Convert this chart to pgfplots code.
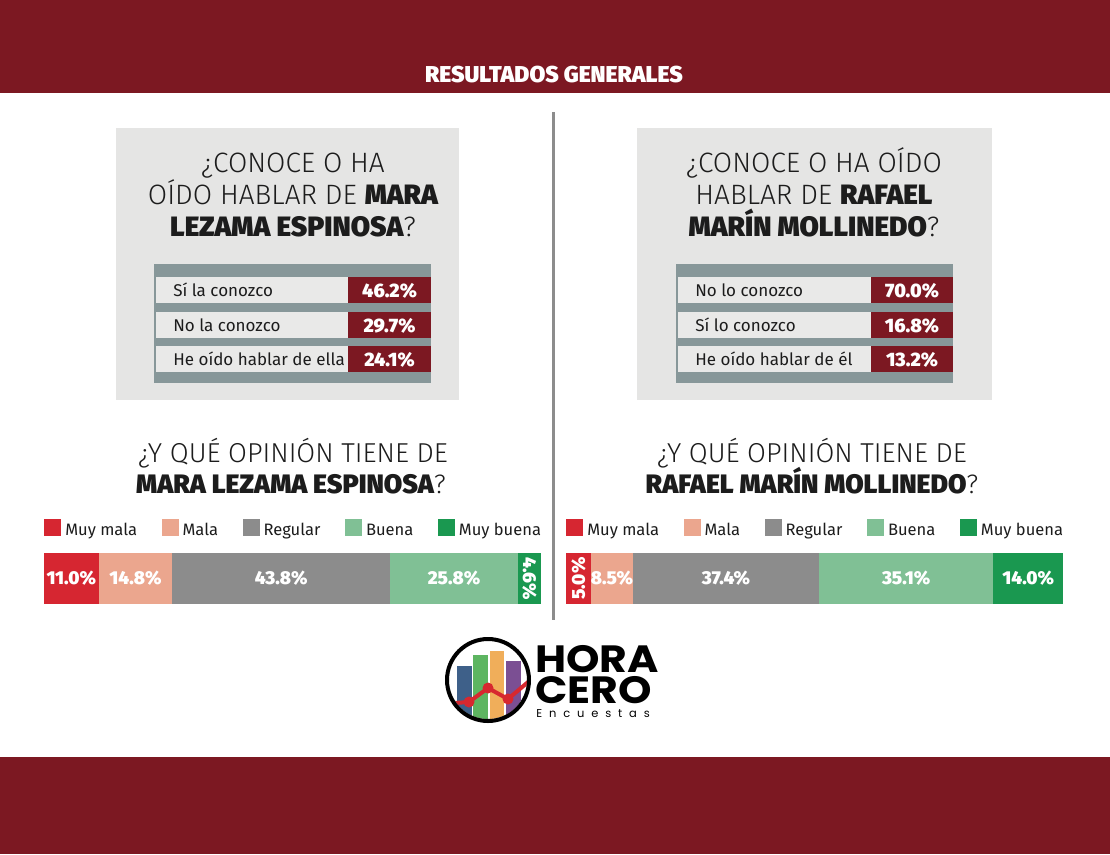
\documentclass[border=0pt]{standalone}
\usepackage{pgfplots}
\pgfplotsset{compat=1.18}
\usepackage{fontspec}
\setmainfont{Fira Sans}
\newfontfamily\flight{Fira Sans Light}
\newfontfamily\fheavy{Fira Sans Black}
\newfontfamily\logofont{Poppins}
\newfontfamily\logols{Poppins}[LetterSpace=60]
\newcommand{\fs}[1]{\fontsize{#1pt}{#1pt}\selectfont}
\definecolor{hcred}{RGB}{124,24,34}
\definecolor{boxgray}{RGB}{229,229,228}
\definecolor{cellgray}{RGB}{233,233,232}
\definecolor{frameg}{RGB}{135,151,153}
\definecolor{divider}{RGB}{140,140,140}
\definecolor{titlec}{RGB}{28,28,28}
\definecolor{cMM}{RGB}{214,38,49}
\definecolor{cM}{RGB}{235,166,142}
\definecolor{cR}{RGB}{140,140,140}
\definecolor{cB}{RGB}{128,192,149}
\definecolor{cMB}{RGB}{26,152,80}
\definecolor{lblue}{RGB}{62,96,137}
\definecolor{lgreen}{RGB}{93,181,97}
\definecolor{lorange}{RGB}{240,174,90}
\definecolor{lpurple}{RGB}{123,79,147}
\definecolor{lred}{RGB}{215,40,47}
\pgfplotsset{
  opbar/.style={at={(#1)}, anchor=south west, scale only axis,
    width=372.75pt, height=38.25pt, xmin=0, xmax=100, ymin=0.5, ymax=1.5,
    hide axis, clip=false},
  oplab/.style={only marks, mark=none, nodes near coords,
    point meta=explicit symbolic,
    visualization depends on={value \thisrow{rot}\as\rot},
    every node near coord/.append style={rotate=\rot, anchor=center,
      text=white, font=\fheavy\fs{14}, inner sep=0pt}},
  oplegend/.style={legend columns=5,
    legend style={at={(0,1)}, anchor=south west, yshift=12.75pt,
      draw=none, fill=none, inner sep=0pt, font=\fs{12.4},
      cells={anchor=west},
      nodes={inner sep=0pt, text depth=0pt, text=titlec},
      /tikz/every even column/.append style={column sep=18.4pt},
      /tikz/every odd column/.append style={column sep=3pt}},
    legend image code/.code={\fill[##1] (0pt,-4.7pt) rectangle (12.75pt,8.05pt);}}
}
\begin{document}
\begin{tikzpicture}
\begin{scope}[x=0.75pt,y=-0.75pt]
\fill[white] (0,0) rectangle (1110,854);
\fill[hcred] (0,0) rectangle (1110,93);
\fill[hcred] (0,757) rectangle (1110,854);
\node[anchor=base, text=white, font=\fheavy\fs{17.2}, inner sep=0pt] at (554,82) {RESULTADOS GENERALES};
\draw[divider, line width=2.25pt] (553.5,112) -- (553.5,620);
% boxes
\fill[boxgray] (116,128) rectangle (459,400);
\fill[boxgray] (637,128) rectangle (992,400);
\begin{scope}[every node/.style={anchor=base, inner sep=0pt, text=titlec, font=\flight\fs{21}}]
\node at (293,172) {¿CONOCE O HA};
\node at (293,204) {OÍDO HABLAR DE {\fheavy MARA}};
\node at (293,236) {{\fheavy LEZAMA ESPINOSA}?};
\node at (814,172) {¿CONOCE O HA OÍDO};
\node at (814,204) {HABLAR DE {\fheavy RAFAEL}};
\node at (814,236) {{\fheavy MARÍN MOLLINEDO}?};
\end{scope}
% tables
\fill[frameg] (154,264) rectangle (431,383);
\fill[frameg] (676,264) rectangle (953,383);
\foreach \yt/\lab/\val in {277/Sí la conozco/46.2\%, 312/No la conozco/29.7\%, 346/He oído hablar de ella/24.1\%}{
  \fill[cellgray] (156,\yt) rectangle (348,\yt+25.5);
  \fill[hcred] (348,\yt) rectangle (431,\yt+25.5);
  \node[anchor=base west, inner sep=0pt, font=\fs{12.75}, text=titlec] at (173,\yt+19) {\lab};
  \node[anchor=base, inner sep=0pt, font=\fheavy\fs{14.6}, text=white] at (389.5,\yt+20.5) {\val};
}
\foreach \yt/\lab/\val in {277/No lo conozco/70.0\%, 312/Sí lo conozco/16.8\%, 346/He oído hablar de él/13.2\%}{
  \fill[cellgray] (678,\yt) rectangle (871,\yt+25.5);
  \fill[hcred] (871,\yt) rectangle (953,\yt+25.5);
  \node[anchor=base west, inner sep=0pt, font=\fs{12.75}, text=titlec] at (695,\yt+19) {\lab};
  \node[anchor=base, inner sep=0pt, font=\fheavy\fs{14.6}, text=white] at (912,\yt+20.5) {\val};
}
% opinion headings
\begin{scope}[every node/.style={anchor=base, inner sep=0pt, text=titlec, font=\flight\fs{20.5}}]
\node at (293,462) {¿Y QUÉ OPINIÓN TIENE DE};
\node[font=\flight\fs{20}] at (291,493) {{\fheavy MARA LEZAMA ESPINOSA}?};
\node at (812,462) {¿Y QUÉ OPINIÓN TIENE DE};
\node[font=\flight\fs{20}] at (812,493) {{\fheavy RAFAEL MARÍN MOLLINEDO}?};
\end{scope}
% logo
\begin{scope}
\clip (488,680) circle (39);
\fill[lblue] (457,666) rectangle (472,730);
\fill[lgreen] (473,655) rectangle (488,730);
\fill[lorange] (490,651) rectangle (504,730);
\fill[lpurple] (506,661) rectangle (521,730);
\draw[lred, line width=3pt] (440,704) -- (469,702) -- (488,688) -- (508,699) -- (534,677);
\fill[lred] (469,702) circle (5.5) (488,688) circle (5.5) (508,699) circle (5.5);
\end{scope}
\draw[black, line width=3pt] (488,680) circle (41);
\node[anchor=base west, inner sep=0pt] at (535,672.5) {%
  \rlap{\logofont\bfseries\fs{28.5}\scalebox{1.12}[1]{HORA}}%
  \rlap{\raisebox{-22.875pt}{\logofont\bfseries\fs{28.5}\scalebox{1.12}[1]{CERO}}}%
  \hspace*{0.75pt}\raisebox{-33.75pt}{\logols\fs{8.6}Encuestas}};
\coordinate (barL) at (44,604);
\coordinate (barR) at (566,604);
\end{scope}

% left opinion bar
\begin{axis}[opbar=barL, xbar stacked, bar width=38.25pt, oplegend]
\addplot[fill=cMM, draw=none] coordinates {(11.0,1)};
\addplot[fill=cM, draw=none] coordinates {(14.8,1)};
\addplot[fill=cR, draw=none] coordinates {(43.8,1)};
\addplot[fill=cB, draw=none] coordinates {(25.8,1)};
\addplot[fill=cMB, draw=none] coordinates {(4.6,1)};
\legend{Muy mala, Mala, Regular, Buena, Muy buena}
\end{axis}
\begin{axis}[opbar=barL]
\addplot[oplab] table[x=x, y=y, meta=lab] {
x y rot lab
5.5 1 0 11.0\%
18.4 1 0 14.8\%
47.7 1 0 43.8\%
82.5 1 0 25.8\%
97.7 1 -90 4.6\%
};
\end{axis}

% right opinion bar
\begin{axis}[opbar=barR, xbar stacked, bar width=38.25pt, oplegend]
\addplot[fill=cMM, draw=none] coordinates {(5.0,1)};
\addplot[fill=cM, draw=none] coordinates {(8.5,1)};
\addplot[fill=cR, draw=none] coordinates {(37.4,1)};
\addplot[fill=cB, draw=none] coordinates {(35.1,1)};
\addplot[fill=cMB, draw=none] coordinates {(14.0,1)};
\legend{Muy mala, Mala, Regular, Buena, Muy buena}
\end{axis}
\begin{axis}[opbar=barR]
\addplot[oplab] table[x=x, y=y, meta=lab] {
x y rot lab
2.5 1 90 5.0\%
9.25 1 0 8.5\%
32.2 1 0 37.4\%
68.45 1 0 35.1\%
93.0 1 0 14.0\%
};
\end{axis}

\begin{scope}[x=0.75pt,y=-0.75pt]
\pgfresetboundingbox
\path[use as bounding box] (0,0) rectangle (1110,854);
\end{scope}
\end{tikzpicture}
\end{document}
